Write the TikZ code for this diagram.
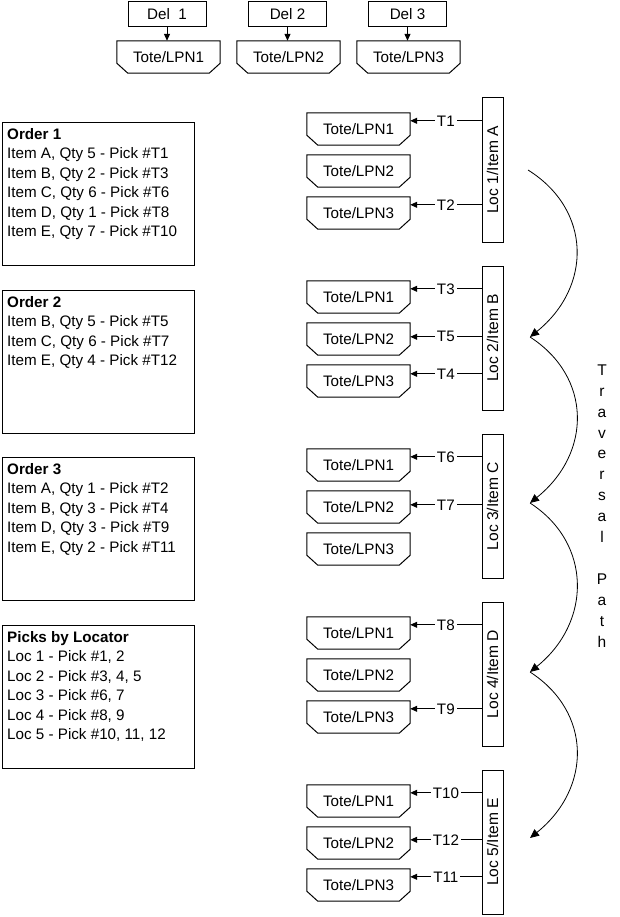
\documentclass[tikz,border=0pt]{standalone}
\usepackage{fontspec}
\setmainfont{Liberation Sans}
\usetikzlibrary{arrows.meta,calc}
\newcommand\totebox[4]{%
  \node[tote] (#1) at (#2,#3) {#4};
  \draw[outline] (#1.north west) -- (#1.north east) -- ([yshift=10pt]#1.south east)
    -- ([xshift=-11pt]#1.south east) -- ([xshift=11pt]#1.south west)
    -- ([yshift=10pt]#1.south west) -- cycle;
}
\tikzset{
  every node/.style={font=\fontsize{15.2}{19.5}\selectfont, inner sep=0pt},
  outline/.style={line width=1pt},
  tote/.style={minimum width=103pt, minimum height=32pt},
  delbox/.style={draw, line width=1pt, minimum width=78pt, minimum height=25pt},
  locbox/.style={draw, line width=1pt, minimum width=21pt, minimum height=144pt},
  orderbox/.style={draw, line width=1pt, minimum width=192pt, minimum height=143pt, anchor=north west},
  ordertext/.style={anchor=north west, align=left},
  pick/.style={line width=1pt, -{Triangle[length=7pt,width=6pt]}},
  tlab/.style={fill=white, inner xsep=2pt, inner ysep=1pt},
  trav/.style={line width=0.8pt, -{Triangle[length=9pt,width=8pt]}},
}
\begin{document}
\begin{tikzpicture}[x=1pt,y=-1pt]
\useasboundingbox (0,0) rectangle (620,917);
% delivery boxes
\node[delbox] (D1) at (167,14.5) {Del~ 1};
\node[delbox] (D2) at (287.5,14.5) {Del 2};
\node[delbox] (D3) at (407.5,14.5) {Del 3};
\totebox{K1}{168.5}{57}{Tote/LPN1}
\totebox{K2}{288.5}{57}{Tote/LPN2}
\totebox{K3}{408.5}{57}{Tote/LPN3}
\foreach \i in {1,2,3} \draw[pick] (D\i.south) -- (D\i.south |- K\i.north);
% order boxes
\node[orderbox] (O1) at (2,122) {};
\node[ordertext] (O1t) at (7,128) {\textbf{Order 1}\\Item A, Qty 5 - Pick \#T1\\Item B, Qty 2 - Pick \#T3\\Item C, Qty 6 - Pick \#T6\\Item D, Qty 1 - Pick \#T8\\Item E, Qty 7 - Pick \#T10};
\node[orderbox] (O2) at (2,290) {};
\node[ordertext] (O2t) at (7,296) {\textbf{Order 2}\\Item B, Qty 5 - Pick \#T5\\Item C, Qty 6 - Pick \#T7\\Item E, Qty 4 - Pick \#T12};
\node[orderbox] (O3) at (2,457) {};
\node[ordertext] (O3t) at (7,463) {\textbf{Order 3}\\Item A, Qty 1 - Pick \#T2\\Item B, Qty 3 - Pick \#T4\\Item D, Qty 3 - Pick \#T9\\Item E, Qty 2 - Pick \#T11};
\node[orderbox] (O4) at (2,625) {};
\node[ordertext] (O4t) at (7,631) {\textbf{Picks by Locator}\\Loc 1 - Pick \#1, 2\\Loc 2 - Pick \#3, 4, 5\\Loc 3 - Pick \#6, 7\\Loc 4 - Pick \#8, 9\\Loc 5 - Pick \#10, 11, 12};
% locations and totes
\foreach \g/\it/\n in {0/A/1,168/B/2,336/C/3,504/D/4,672/E/5} {
  \node[locbox] (L\n) at (492.5,170+\g) {};
  \node[rotate=90, font=\fontsize{15.6}{19}\selectfont] (LT\n) at (L\n) {Loc \n/Item \it};
  \totebox{P\n-1}{358.5}{129+\g}{Tote/LPN1}
  \totebox{P\n-2}{358.5}{171+\g}{Tote/LPN2}
  \totebox{P\n-3}{358.5}{213+\g}{Tote/LPN3}
}
% pick connectors
\newcommand\pickline[4]{\draw[pick] ($(#1.west|-#2.north)+(0,#3)$) -- node[tlab] (#4) {#4} ($(#2.north east)+(0,#3)$);}
\pickline{L1}{P1-1}{8}{T1}
\pickline{L1}{P1-3}{8}{T2}
\pickline{L2}{P2-1}{8}{T3}
\pickline{L2}{P2-2}{14}{T5}
\pickline{L2}{P2-3}{9}{T4}
\pickline{L3}{P3-1}{8}{T6}
\pickline{L3}{P3-2}{14}{T7}
\pickline{L4}{P4-1}{8}{T8}
\pickline{L4}{P4-3}{8}{T9}
\pickline{L5}{P5-1}{8}{T10}
\pickline{L5}{P5-2}{13}{T12}
\pickline{L5}{P5-3}{8}{T11}
% traversal path
\coordinate (c0) at (528,170);
\coordinate (c1) at (530,337);
\coordinate (c2) at (530,503);
\coordinate (c3) at (530,672);
\coordinate (c4) at (530,838);
\draw[trav] (c0) .. controls (592,210) and (592,287) .. (c1);
\draw[trav] (c1) .. controls (592,377) and (592,453) .. (c2);
\draw[trav] (c2) .. controls (592,543) and (592,622) .. (c3);
\draw[trav] (c3) .. controls (592,712) and (592,788) .. (c4);
\node[align=center, anchor=north, font=\fontsize{15.5}{20.9}\selectfont] (TP) at (602,364.5)
  {T\\r\\a\\v\\e\\r\\s\\a\\l\\\mbox{}\\P\\a\\t\\h};
\end{tikzpicture}
\end{document}
